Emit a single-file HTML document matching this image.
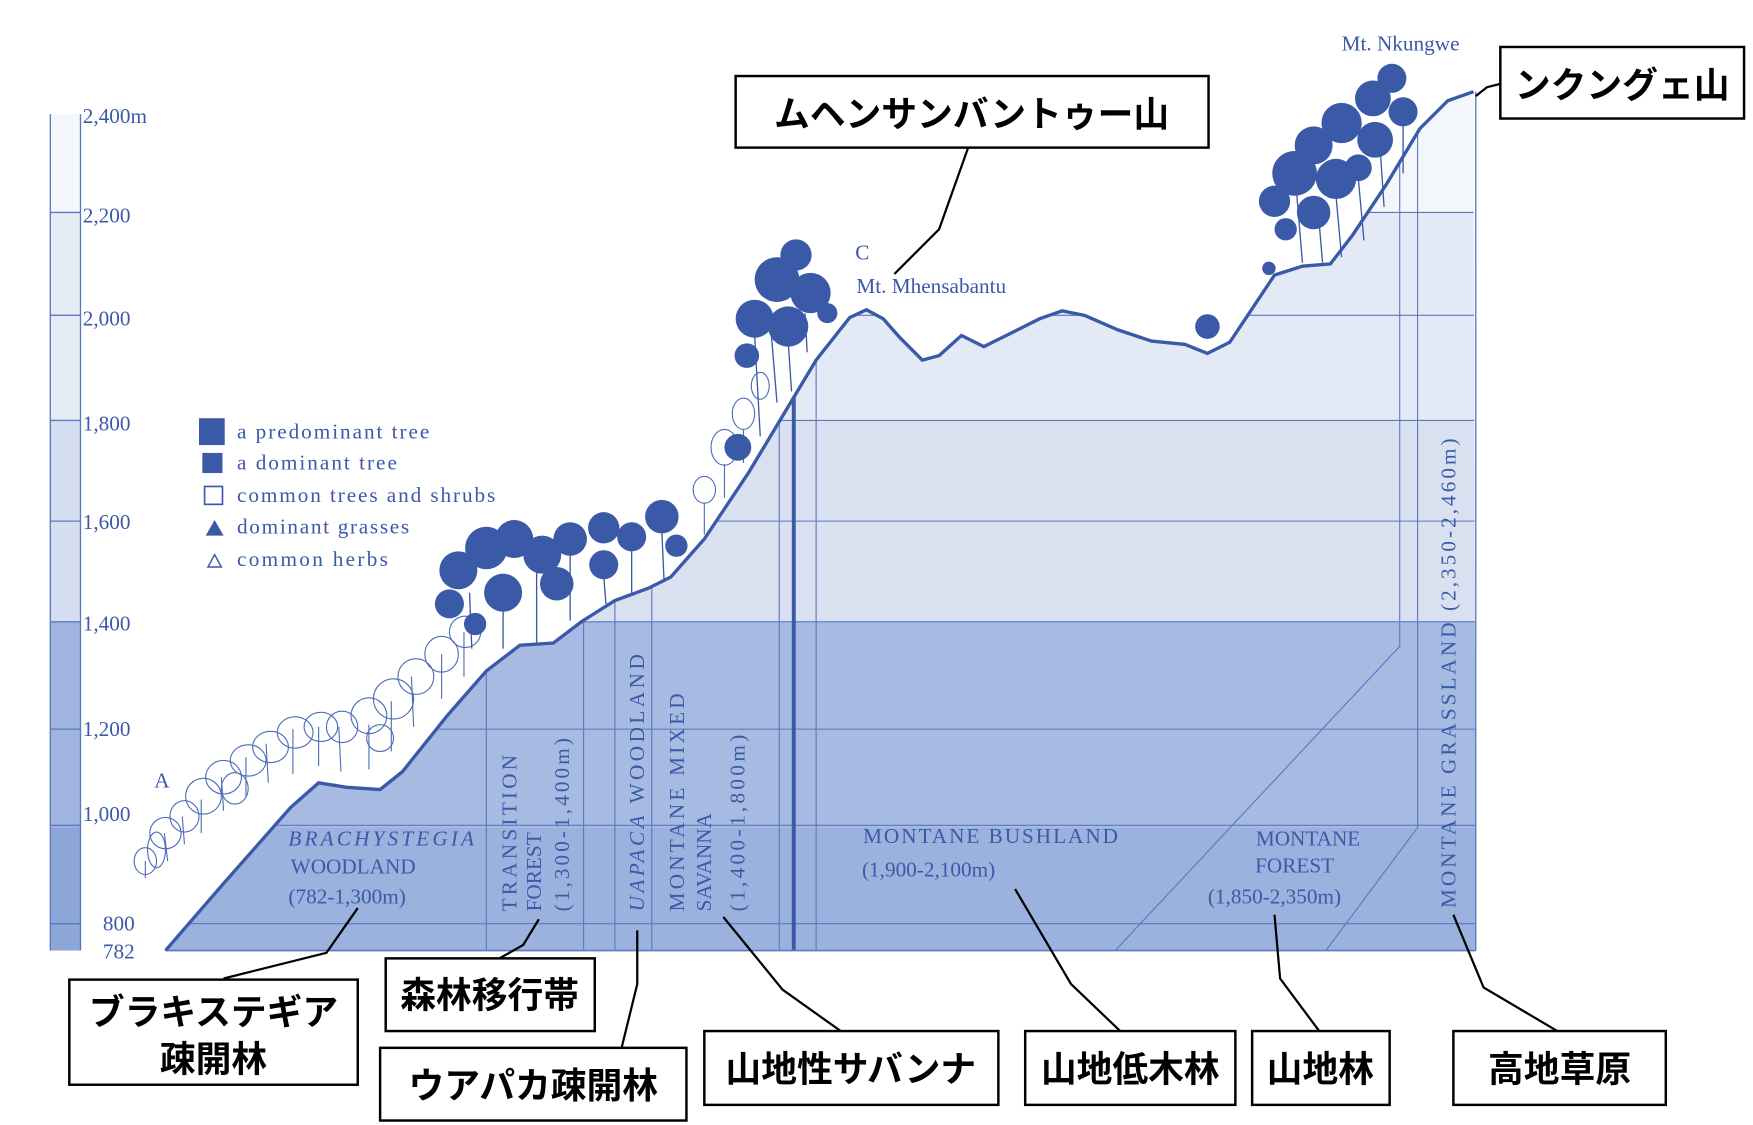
<!DOCTYPE html>
<html><head><meta charset="utf-8">
<style>
html,body{margin:0;padding:0;background:#fff;width:1753px;height:1125px;overflow:hidden}
svg{display:block}
.b{fill:#3a5aa8;font-family:"Liberation Serif",serif;font-size:19px}
.j{font-family:"Liberation Sans","Noto Sans CJK JP",sans-serif;font-weight:bold;font-size:32px;fill:#000}
.bx{fill:#fff;stroke:#000;stroke-width:2.2}
.ld{fill:none;stroke:#000;stroke-width:2}
.g{stroke:#4d6cb8;stroke-width:1;fill:none}
</style></head><body>
<svg width="1753" height="1125" viewBox="0 0 1568 1006" preserveAspectRatio="none">
<defs>
<clipPath id="terr"><path d="M148,850 L200,790 L260,722 L285,700 L310,704 L340,706 L360,690 L400,640 L435,600 L465,577 L495,575 L520,556 L550,537 L580,526 L600,516 L630,482 L670,422 L700,372 L730,322 L760,284 L775,277 L790,285 L805,302 L825,322 L840,318 L860,300 L880,310 L900,300 L930,285 L950,278 L970,282 L1000,295 L1030,305 L1060,308 L1080,316 L1100,306 L1120,276 L1140,246 L1165,238 L1190,236 L1210,210 L1240,165 L1270,115 L1295,90 L1318,82 L1320,850 Z"/></clipPath>
</defs>
<rect x="45" y="102" width="27" height="88" fill="#f3f6fb"/>
<rect x="45" y="190" width="27" height="186" fill="#e6ecf6"/>
<rect x="45" y="376" width="27" height="180" fill="#d5def0"/>
<rect x="45" y="556" width="27" height="184" fill="#9fb4de"/>
<rect x="45" y="740" width="27" height="110" fill="#8da6d8"/>
<g stroke="#5a78c0" stroke-width="1.2">
<line x1="45" y1="102" x2="45" y2="850"/><line x1="72" y1="102" x2="72" y2="850"/>
<line x1="45" y1="190" x2="72" y2="190"/><line x1="45" y1="282" x2="72" y2="282"/><line x1="45" y1="376" x2="72" y2="376"/><line x1="45" y1="466" x2="72" y2="466"/><line x1="45" y1="556" x2="72" y2="556"/><line x1="45" y1="652" x2="72" y2="652"/><line x1="45" y1="738" x2="72" y2="738"/><line x1="45" y1="826" x2="72" y2="826"/>
</g>
<g class="b" font-size="19">
<text x="74" y="110">2,400m</text><text x="74" y="199">2,200</text><text x="74" y="291">2,000</text><text x="74" y="385">1,800</text><text x="74" y="473">1,600</text><text x="74" y="564">1,400</text><text x="74" y="658">1,200</text><text x="74" y="734">1,000</text><text x="92" y="832">800</text><text x="92" y="857">782</text>
</g>
<g clip-path="url(#terr)">
<rect x="140" y="60" width="1190" height="130" fill="#f3f6fb"/>
<rect x="140" y="190" width="1190" height="186" fill="#e4eaf5"/>
<rect x="140" y="376" width="1190" height="180" fill="#d9e1f1"/>
<rect x="140" y="556" width="1190" height="184" fill="#a6bae2"/>
<rect x="140" y="740" width="1190" height="110" fill="#9cb2de"/>
<g stroke="#5a78c0" stroke-width="1">
<line x1="140" y1="190" x2="1320" y2="190"/><line x1="140" y1="282" x2="1320" y2="282"/><line x1="140" y1="376" x2="1320" y2="376"/><line x1="140" y1="466" x2="1320" y2="466"/><line x1="140" y1="556" x2="1320" y2="556"/><line x1="140" y1="652" x2="1320" y2="652"/><line x1="140" y1="738" x2="1320" y2="738"/><line x1="140" y1="826" x2="1320" y2="826"/>
<line x1="435" y1="500" x2="435" y2="860"/><line x1="522" y1="500" x2="522" y2="860"/><line x1="550" y1="500" x2="550" y2="860"/><line x1="583" y1="500" x2="583" y2="860"/><line x1="697" y1="300" x2="697" y2="860"/><line x1="730" y1="300" x2="730" y2="860"/>
<line x1="1252" y1="100" x2="1252" y2="578"/><line x1="1252" y1="578" x2="990" y2="858"/>
<line x1="1268" y1="100" x2="1268" y2="740"/><line x1="1268" y1="740" x2="1180" y2="858"/>
</g>
<line x1="710" y1="300" x2="710" y2="860" stroke="#3a5aa8" stroke-width="3.5"/>
</g>
<line x1="1320" y1="82" x2="1320" y2="850" stroke="#5a78c0" stroke-width="1.2"/>
<line x1="148" y1="850" x2="1320" y2="850" stroke="#5a78c0" stroke-width="1.5"/>
<g class="g">
<path d="M130,785 l0,-15 M150,770 l-3,-25 M165,755 l-2,-25 M180,745 l0,-30 M200,725 l-2,-30 M220,712 l0,-35 M240,700 l-2,-35 M262,692 l0,-40 M285,685 l0,-35 M305,690 l-2,-40 M330,688 l0,-40 M350,672 l0,-45 M370,650 l-2,-45 M395,625 l0,-40 M415,605 l0,-40"/>
<ellipse cx="130" cy="770" rx="10" ry="12"/><ellipse cx="148" cy="745" rx="14" ry="14"/><ellipse cx="165" cy="730" rx="13" ry="14"/><ellipse cx="182" cy="712" rx="16" ry="16"/><ellipse cx="200" cy="695" rx="16" ry="15"/><ellipse cx="222" cy="680" rx="16" ry="14"/><ellipse cx="242" cy="668" rx="16" ry="14"/><ellipse cx="264" cy="655" rx="16" ry="14"/><ellipse cx="287" cy="650" rx="15" ry="13"/><ellipse cx="306" cy="650" rx="14" ry="14"/><ellipse cx="330" cy="640" rx="16" ry="16"/><ellipse cx="352" cy="625" rx="18" ry="18"/><ellipse cx="372" cy="605" rx="16" ry="16"/><ellipse cx="395" cy="585" rx="15" ry="16"/><ellipse cx="416" cy="565" rx="14" ry="14"/><ellipse cx="140" cy="760" rx="8" ry="16"/><ellipse cx="210" cy="705" rx="12" ry="14"/><ellipse cx="340" cy="660" rx="12" ry="12"/>
</g>
<g fill="#3a5aa8">
<circle cx="410" cy="510" r="17"/><circle cx="435" cy="490" r="19"/><circle cx="460" cy="482" r="17"/><circle cx="485" cy="496" r="17"/><circle cx="510" cy="482" r="15"/><circle cx="540" cy="472" r="14"/><circle cx="565" cy="480" r="13"/><circle cx="592" cy="462" r="15"/><circle cx="402" cy="540" r="13"/><circle cx="450" cy="530" r="17"/><circle cx="498" cy="522" r="15"/><circle cx="540" cy="505" r="13"/><circle cx="605" cy="488" r="10"/><circle cx="425" cy="558" r="10"/>
</g>
<g stroke="#3a5aa8" stroke-width="1.2"><path d="M420,530 l2,50 M450,540 l0,40 M480,510 l0,65 M510,495 l0,60 M540,515 l2,25 M565,490 l0,40 M592,475 l2,45"/></g>
<g class="g" stroke-width="1.3"><ellipse cx="630" cy="438" rx="10" ry="12"/><ellipse cx="648" cy="400" rx="12" ry="16"/><ellipse cx="665" cy="370" rx="10" ry="14"/><ellipse cx="680" cy="345" rx="8" ry="12"/><path d="M630,450 l0,28 M648,415 l0,30 M665,384 l0,30"/></g>
<g fill="#3a5aa8">
<circle cx="712" cy="228" r="14"/><circle cx="695" cy="250" r="20"/><circle cx="725" cy="262" r="18"/><circle cx="675" cy="285" r="17"/><circle cx="705" cy="292" r="18"/><circle cx="668" cy="318" r="11"/><circle cx="740" cy="280" r="9"/><circle cx="660" cy="400" r="12"/>
</g>
<g stroke="#3a5aa8" stroke-width="1.2"><path d="M690,300 l5,60 M705,305 l3,45 M720,280 l2,35 M675,300 l5,90"/></g>
<g fill="#3a5aa8">
<circle cx="1245" cy="70" r="13"/><circle cx="1228" cy="88" r="16"/><circle cx="1255" cy="100" r="13"/><circle cx="1200" cy="110" r="18"/><circle cx="1230" cy="125" r="16"/><circle cx="1175" cy="130" r="17"/><circle cx="1158" cy="155" r="20"/><circle cx="1195" cy="160" r="18"/><circle cx="1140" cy="180" r="14"/><circle cx="1175" cy="190" r="15"/><circle cx="1215" cy="150" r="12"/><circle cx="1150" cy="205" r="10"/><circle cx="1080" cy="292" r="11"/><circle cx="1135" cy="240" r="6"/>
</g>
<g stroke="#3a5aa8" stroke-width="1.2"><path d="M1160,175 l5,60 M1180,200 l3,35 M1195,175 l5,55 M1215,160 l5,55 M1235,140 l3,45 M1255,110 l0,45"/></g>
<path d="M148,850 L200,790 L260,722 L285,700 L310,704 L340,706 L360,690 L400,640 L435,600 L465,577 L495,575 L520,556 L550,537 L580,526 L600,516 L630,482 L670,422 L700,372 L730,322 L760,284 L775,277 L790,285 L805,302 L825,322 L840,318 L860,300 L880,310 L900,300 L930,285 L950,278 L970,282 L1000,295 L1030,305 L1060,308 L1080,316 L1100,306 L1120,276 L1140,246 L1165,238 L1190,236 L1210,210 L1240,165 L1270,115 L1295,90 L1318,82" fill="none" stroke="#3a5aa8" stroke-width="3"/>
<text class="b" x="138" y="704" font-family="Liberation Sans" font-size="20">A</text>
<text class="b" x="765" y="232" font-family="Liberation Sans" font-size="20">C</text>
<text class="b" x="766" y="262">Mt. Mhensabantu</text>
<text class="b" x="1200" y="45" font-size="18">Mt. Nkungwe</text>
<rect x="178" y="374" width="23" height="24" fill="#3a5aa8"/>
<rect x="181" y="405" width="18" height="18" fill="#3a5aa8"/>
<rect x="183" y="435" width="16" height="16" fill="none" stroke="#3a5aa8" stroke-width="1.5"/>
<path d="M184,479 L192,465 L200,479 Z" fill="#3a5aa8"/>
<path d="M186,507 L192,496 L198,507 Z" fill="none" stroke="#3a5aa8" stroke-width="1.3"/>
<g class="b" font-size="20"><text x="212" y="392" textLength="172">a predominant tree</text><text x="212" y="420" textLength="143">a dominant tree</text><text x="212" y="449" textLength="231">common trees and shrubs</text><text x="212" y="477" textLength="154">dominant grasses</text><text x="212" y="506" textLength="135">common herbs</text></g>
<g class="b" font-size="21">
<text x="258" y="756" font-style="italic" textLength="166">BRACHYSTEGIA</text>
<text x="260" y="781">WOODLAND</text>
<text x="258" y="808">(782-1,300m)</text>
<text x="772" y="754" textLength="228">MONTANE BUSHLAND</text>
<text x="771" y="784">(1,900-2,100m)</text>
<text x="1170" y="756" text-anchor="middle">MONTANE</text>
<text x="1158" y="780" text-anchor="middle">FOREST</text>
<text x="1140" y="808" text-anchor="middle">(1,850-2,350m)</text>
<text transform="translate(462,815) rotate(-90)" textLength="140">TRANSITION</text>
<text transform="translate(484,815) rotate(-90)">FOREST</text>
<text transform="translate(509,815) rotate(-90)" textLength="155">(1,300-1,400m)</text>
<text transform="translate(576,815) rotate(-90)" textLength="230"><tspan font-style="italic">UAPACA</tspan> WOODLAND</text>
<text transform="translate(612,815) rotate(-90)" textLength="195">MONTANE MIXED</text>
<text transform="translate(636,815) rotate(-90)">SAVANNA</text>
<text transform="translate(666,815) rotate(-90)" textLength="158">(1,400-1,800m)</text>
<text transform="translate(1302,812) rotate(-90)" textLength="420">MONTANE GRASSLAND  (2,350-2,460m)</text>
</g>
<path class="ld" d="M320,812 L292,852 L200,875"/>
<path class="ld" d="M482,822 L468,845 L445,858"/>
<path class="ld" d="M570,832 L570,880 L556,937"/>
<path class="ld" d="M647,820 L700,885 L752,922"/>
<path class="ld" d="M908,795 L958,880 L1002,922"/>
<path class="ld" d="M1140,818 L1145,875 L1180,922"/>
<path class="ld" d="M1300,818 L1327,883 L1393,922"/>
<path class="ld" d="M866,132 L840,205 L800,245"/>
<path class="ld" d="M1342,75 L1330,78 L1320,86"/>
<rect class="bx" x="62" y="876" width="258" height="94"/>
<text class="j" x="191" y="916" text-anchor="middle">ブラキステギア</text>
<text class="j" x="191" y="958" text-anchor="middle">疎開林</text>
<rect class="bx" x="345" y="857" width="187" height="65"/>
<text class="j" x="438" y="901" text-anchor="middle">森林移行帯</text>
<rect class="bx" x="340" y="937" width="274" height="65"/>
<text class="j" x="477" y="982" text-anchor="middle">ウアパカ疎開林</text>
<rect class="bx" x="630" y="922" width="263" height="66"/>
<text class="j" x="761" y="967" text-anchor="middle">山地性サバンナ</text>
<rect class="bx" x="917" y="922" width="188" height="66"/>
<text class="j" x="1011" y="967" text-anchor="middle">山地低木林</text>
<rect class="bx" x="1120" y="922" width="123" height="66"/>
<text class="j" x="1181" y="967" text-anchor="middle">山地林</text>
<rect class="bx" x="1300" y="922" width="190" height="66"/>
<text class="j" x="1395" y="967" text-anchor="middle">高地草原</text>
<rect class="bx" x="658" y="68" width="423" height="64"/>
<text class="j" x="869" y="113" text-anchor="middle">ムヘンサンバントゥー山</text>
<rect class="bx" x="1342" y="42" width="218" height="64"/>
<text class="j" x="1451" y="87" text-anchor="middle">ンクングェ山</text>
</svg>
</body></html>
